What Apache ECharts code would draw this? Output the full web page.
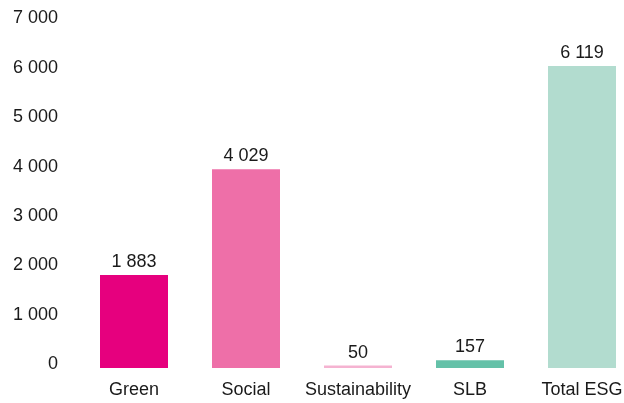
<!DOCTYPE html>
<html>
<head>
<meta charset="utf-8">
<script src="https://cdn.jsdelivr.net/npm/echarts@6/dist/echarts.min.js"></script>
<style>
  html, body { margin: 0; padding: 0; background: #fff; }
  #chart { width: 624px; height: 403px; }
</style>
</head>
<body>
<div id="chart"></div>
<script>
const categories = ['Green', 'Social', 'Sustainability', 'SLB', 'Total ESG'];
const values = [1883, 4029, 50, 157, 6119];
const barColors = ['#E6007E', '#EE6FA8', '#F5B3D1', '#64C1A8', '#B2DCCF'];

// thousands with a space: 6 119
const fmt = function (v) {
    return String(v).replace(/\B(?=(\d{3})+(?!\d))/g, ' ');
};

const textColor = '#1a1a1a';
const font = 'Liberation Sans, Arial, Helvetica, sans-serif';

const option = {
    animation: false,
    grid: {
        left: 78,
        top: 22.5,
        width: 560,
        height: 345.5,
        outerBoundsMode: 'none'
    },
    xAxis: {
        type: 'category',
        data: categories,
        axisLine: { show: false },
        axisTick: { show: false },
        axisLabel: {
            color: textColor,
            fontSize: 18,
            fontFamily: font,
            margin: 13,
            interval: 0
        }
    },
    yAxis: {
        type: 'value',
        min: 0,
        max: 7000,
        interval: 1000,
        splitLine: { show: false },
        axisLine: { show: false },
        axisTick: { show: false },
        axisLabel: {
            color: textColor,
            fontSize: 18,
            fontFamily: font,
            margin: 20,
            verticalAlign: 'bottom',
            lineHeight: 8,
            formatter: fmt
        }
    },
    series: [{
        type: 'bar',
        barWidth: 68,
        data: values.map(function (v, i) {
            return { value: v, itemStyle: { color: barColors[i] } };
        }),
        label: {
            show: true,
            position: 'top',
            distance: 4,
            color: textColor,
            fontSize: 18,
            fontFamily: font,
            formatter: function (p) { return fmt(p.value); }
        }
    }]
};

const chart = echarts.init(document.getElementById('chart'), null, { renderer: 'canvas' });
chart.setOption(option);
</script>
</body>
</html>
